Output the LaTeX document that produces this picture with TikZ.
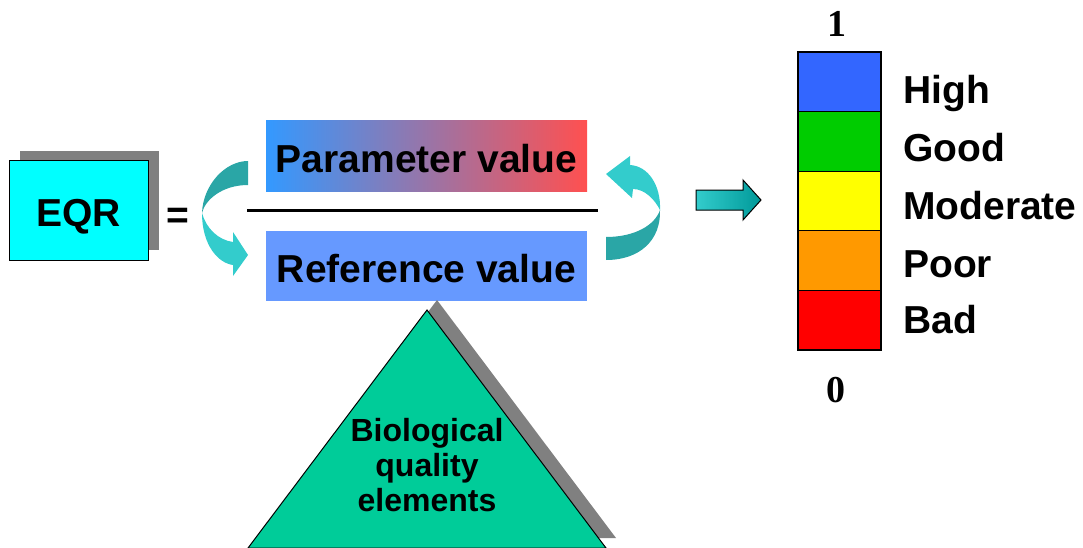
\documentclass[tikz,border=0pt]{standalone}
\usepackage{fontspec}
\setmainfont{Liberation Sans}
\newfontfamily\digitfont{Liberation Serif}
\usetikzlibrary{positioning}
\usetikzlibrary{shadows}

\definecolor{eqrcyan}{HTML}{00FFFF}
\definecolor{shadowgray}{HTML}{808080}
\definecolor{paramleft}{HTML}{3399FF}
\definecolor{parammid}{HTML}{B47AC0}
\definecolor{paramright}{HTML}{FF5050}
\definecolor{refblue}{HTML}{6699FF}
\definecolor{bqegreen}{HTML}{00CC99}
\definecolor{tealdark}{HTML}{2AA6A6}
\definecolor{teallight}{HTML}{33CCCC}
\definecolor{arrowdark}{HTML}{009999}
\definecolor{barblue}{HTML}{3366FF}
\definecolor{bargreen}{HTML}{00CC00}
\definecolor{baryellow}{HTML}{FFFF00}
\definecolor{barorange}{HTML}{FF9900}
\definecolor{barred}{HTML}{FF0000}

\begin{document}
\begin{tikzpicture}[x=1pt, y=-1pt,
			bigtext/.style={font=\fontsize{39}{45}\selectfont\bfseries},
			boxshadow/.style={general shadow={fill=shadowgray, shadow xshift=11pt, shadow yshift=10pt}},
			valuebox/.style={bigtext, rectangle, minimum width=321pt, minimum height=70pt, inner sep=0pt, text height=36pt, text depth=4pt},
			segbox/.style={draw=black, line width=1.2pt, rectangle, minimum width=83pt, minimum height=59.6pt, inner sep=0pt, outer sep=0pt},
			digit/.style={font=\fontsize{38}{42}\digitfont\bfseries, inner sep=0pt}]
			\useasboundingbox (0,0) rectangle (1083,548);
			
			\node[bigtext, boxshadow, draw=black, line width=1pt, fill=eqrcyan, minimum width=139pt, minimum height=99pt, inner sep=0pt, text height=35pt, text depth=4pt](eqr) at (78.5, 210.5) {EQR};
			\node[bigtext, anchor=base, inner sep=0pt](equals) at (177.5, 228) {=};
			
			\node[valuebox, left color=paramleft, middle color=parammid, right color=paramright](param) at (426.5, 156) {Parameter value};
			\node[valuebox, fill=refblue](ref) at (426.5, 266) {Reference value};
			\coordinate (fracleft) at (247, 210);
			\coordinate (fracright) at (598, 210);
			\draw[line width=3pt] (fracleft) -- (fracright);
			
			\fill[tealdark] (248, 161) .. controls (225, 161) and (203, 185) .. (202, 213) .. controls (205, 200) and (222, 185) .. (248, 185) -- cycle;
			\fill[teallight] (202, 213) .. controls (202, 245) and (218, 263) .. (233, 265) -- (233, 276) -- (248, 255) -- (233, 232) -- (233, 242) .. controls (218, 240) and (206, 228) .. (202, 213) -- cycle;
			
			\fill[tealdark] (606, 260) .. controls (640, 260) and (661, 240) .. (660, 210) .. controls (655, 225) and (635, 237) .. (606, 237) -- cycle;
			\fill[teallight] (660, 210) .. controls (661, 185) and (648, 166) .. (630, 165) -- (630, 156) -- (606, 174) -- (632, 198) -- (633, 189) .. controls (645, 189) and (655, 200) .. (660, 210) -- cycle;
			
			\draw[line width=1pt, left color=teallight, right color=arrowdark] (696, 190) -- (743, 190) -- (743, 180) -- (761, 200) -- (743, 220) -- (743, 210) -- (696, 210) -- cycle;
			
			\coordinate (apex) at (427, 310);
			\coordinate (baseleft) at (248, 548);
			\coordinate (baseright) at (606, 548);
			\filldraw[fill=bqegreen, draw=black, line width=1pt, general shadow={fill=shadowgray, shadow xshift=10pt, shadow yshift=10pt}] (apex) -- (baseright) -- (baseleft) -- cycle;
			\node[font=\fontsize{32}{35}\selectfont\bfseries, align=center, inner sep=0pt](bqe) at (427, 465) {Biological\\quality\\elements};
			
			\foreach \name/\col/\lab/\base [count=\i] in {high/barblue/High/104, good/bargreen/Good/161.5, moderate/baryellow/Moderate/219.5, poor/barorange/Poor/277, bad/barred/Bad/333}
			{
				\node[segbox, fill=\col](\name) at (839.5, {22.2+59.6*\i}) {};
				\node[bigtext, anchor=base west, inner sep=0pt](\name-label) at (903, \base) {\lab};
			}
			
			\node[digit, above=15pt of high, xshift=-3pt](top) {1};
			\node[digit, below=27pt of bad, xshift=-4pt](bottom) {0};
			\end{tikzpicture}
\end{document}
